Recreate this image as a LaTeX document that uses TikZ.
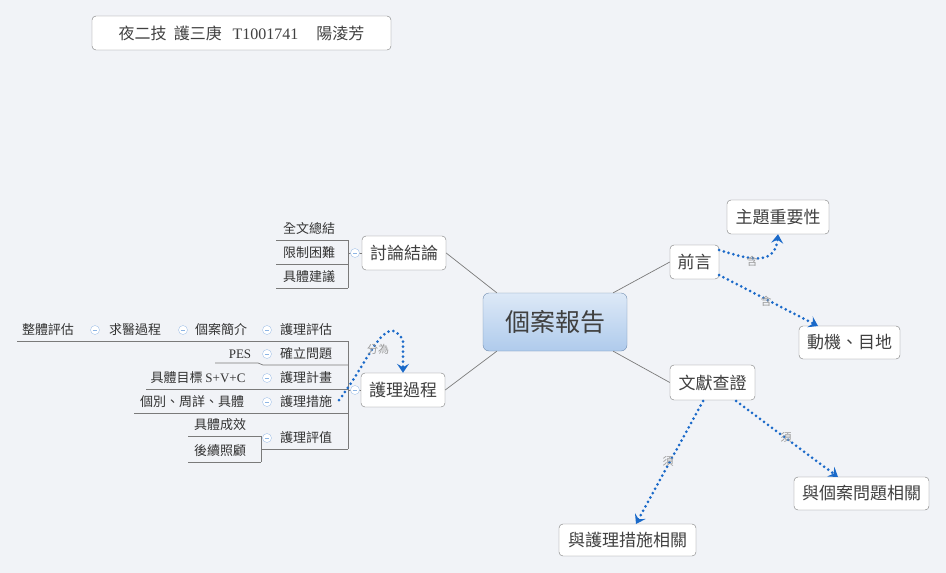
\documentclass[tikz,border=0pt]{standalone}
\usepackage{fontspec}
\setmainfont{Liberation Serif}
\newfontfamily\cjk{Noto Sans CJK TC}
\usetikzlibrary{arrows.meta,shadings}
\definecolor{bg}{HTML}{F1F3F7}
\definecolor{lnk}{HTML}{1B6AC9}
\definecolor{edge}{HTML}{7A7A7A}
\tikzset{
 x=1pt,y=-1pt,
 box/.style={draw=edge,fill=white,rounded corners=4pt,inner sep=0pt,font=\cjk\fontsize{17}{17}\selectfont,text=black!75},
 leaf/.style={inner sep=0pt,font=\cjk\fontsize{13}{13}\selectfont,text=black!80},
 ul/.style={draw=edge,line width=0.7pt},
 br/.style={draw=edge,line width=0.7pt,rounded corners=3pt},
 tie/.style={draw=edge,line width=0.7pt},
 minus/.style={circle,draw=lnk!40,fill=white,inner sep=0pt,minimum size=9pt,path picture={\draw[lnk!50,line width=0.8pt](path picture bounding box.west)++(2.3pt,0)--++(4.4pt,0);}},
 rel/.style={draw=lnk,line width=3pt,dash pattern=on 0pt off 5pt,line cap=round,-{Stealth[length=9pt,width=12pt,inset=3.5pt]}},
 rlab/.style={font=\cjk\fontsize{11}{11}\selectfont,text=black!40,inner sep=1pt}
}
\begin{document}
\begin{tikzpicture}
\fill[bg](0,0) rectangle (946,573);
\useasboundingbox (0,0) rectangle (946,573);
% title
\node[box,minimum width=299pt,minimum height=34pt,font=\cjk\fontsize{16}{16}\selectfont] (title) at (241.5,33) {夜二技\ \ 護三庚\ \ \ {\rmfamily T1001741}\ \ \ \ \ 陽淩芳};
% center
\node[draw=lnk!60!black!60,rounded corners=6pt,top color=white!85!lnk,bottom color=lnk!35,minimum width=144pt,minimum height=58pt,font=\cjk\fontsize{25}{25}\selectfont,text=black!75] (c) at (555,322) {個案報告};
\node[box,minimum width=49pt,minimum height=34pt] (qy) at (694.5,262) {前言};
\node[box,minimum width=102pt,minimum height=34pt] (zt) at (778,217) {主題重要性};
\node[box,minimum width=101pt,minimum height=33pt] (dj) at (849.5,342.5) {動機、目地};
\node[box,minimum width=85pt,minimum height=35pt] (wx) at (712.5,382.5) {文獻查證};
\node[box,minimum width=135pt,minimum height=33pt] (ga) at (861.5,493.5) {與個案問題相關};
\node[box,minimum width=137pt,minimum height=32pt] (hl) at (627.5,540) {與護理措施相關};
\node[box,minimum width=84pt,minimum height=34pt] (tl) at (404,253) {討論結論};
\node[box,minimum width=84pt,minimum height=34pt] (hg) at (403,390) {護理過程};
% main edges
\draw[tie] (c.north east)++(-14,0) -- (qy.west);
\draw[tie] (c.south east)++(-14,0) -- (wx.west);
\draw[tie] (c.north west)++(14,0) -- (tl.east);
\draw[tie] (c.south west)++(14,0) -- (hg.east);
% discussion leaves
\node[leaf] (a1) at (309,229) {全文總結};
\node[leaf] (a2) at (309,253) {限制困難};
\node[leaf] (a3) at (309,277) {具體建議};
\coordinate (t1) at (276,240);\coordinate (t2) at (276,264);\coordinate (t3) at (276,288);
\draw[ul] (t1)--(348,240); \draw[ul](t2)--(348,264); \draw[ul](t3)--(348,288);
\draw[br] (348,240) -- (348,288);
\draw[tie] (348,253)--(tl.west);
\node[minus] (m1) at (355,253) {};
% process leaves
\node[leaf] (p1) at (306,330) {護理評估};
\node[leaf] (p2) at (306,354) {確立問題};
\node[leaf] (p3) at (306,378) {護理計畫};
\node[leaf] (p4) at (306,402) {護理措施};
\node[leaf] (p5) at (306,438) {護理評值};
\draw[ul] (17,341)--(348,341);
\draw[ul] (215,363)--(258,363)--(263,365)--(348,365);
\draw[ul] (146,389)--(348,389);
\draw[ul] (134,413)--(348,413);
\draw[ul] (262,449)--(348,449);
\draw[br] (348,341)--(348,449);
\draw[tie] (348,390)--(hg.west);
\node[minus] (m2) at (355,390) {};
\node[leaf] (q1) at (221,330) {個案簡介};
\node[leaf] (q2) at (135,330) {求醫過程};
\node[leaf] (q3) at (48,330) {整體評估};
\node[minus] at (267,330) {};\node[minus] at (183,330) {};\node[minus] at (95,330) {};
\node[leaf,font=\rmfamily\fontsize{13}{13}\selectfont] (r1) at (240,354) {PES};
\node[minus] at (267,354) {};
\node[leaf] (r2) at (198,378) {具體目標 {\rmfamily S+V+C}};
\node[minus] at (267,378) {};
\node[leaf] (r3) at (192,402) {個別、周詳、具體};
\node[minus] at (267,402) {};
\node[leaf] (s1) at (220,425) {具體成效};
\node[leaf] (s2) at (220,451) {後續照顧};
\draw[ul] (188,436)--(261,436); \draw[ul] (188,462)--(261,462);
\draw[br] (261,436)--(261,462);
\node[minus] at (267,438) {};
% relations
\draw[rel] (719,250) .. controls (745,258) and (775,268) .. (zt.south);
\node[rlab] at (752,261) {含};
\draw[rel] (719,275) -- (818,326);
\node[rlab] at (766,301) {含};
\draw[rel] (703,401) -- (636,524);
\node[rlab] at (668,461) {須};
\draw[rel] (736,401) -- (838,477);
\node[rlab] at (786,437) {須};
\draw[rel] (339,400) .. controls (370,360) and (385,310) .. (403,340) -- (hg.north);
\node[rlab] at (378,349) {分為};
\end{tikzpicture}
\end{document}
